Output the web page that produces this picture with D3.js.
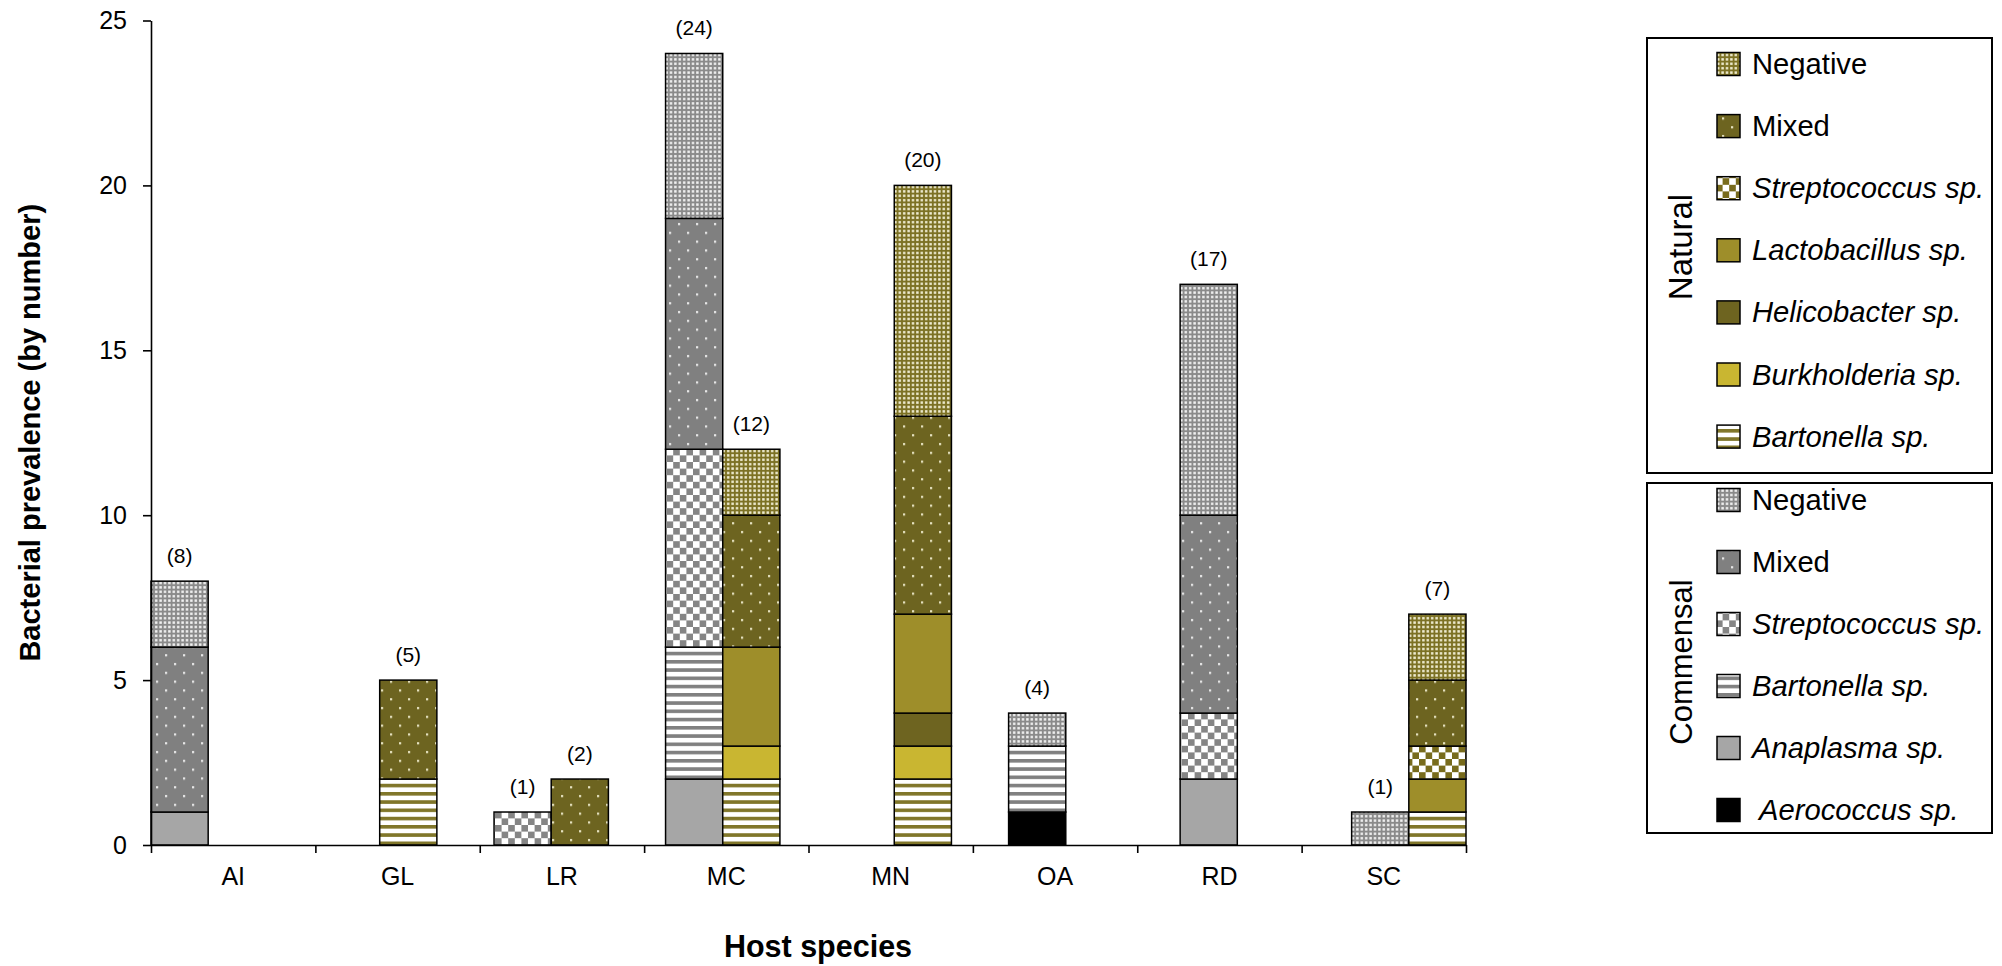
<!DOCTYPE html>
<html><head><meta charset="utf-8">
<script src="https://cdn.jsdelivr.net/npm/d3@7"></script>
<style>
html,body{margin:0;padding:0;background:#fff;}
svg{display:block;font-family:"Liberation Sans",Arial,sans-serif;}
</style>
</head><body>
<svg id="chart" width="2002" height="966"></svg>
<script>
// ---------------- DATA ----------------
const hosts = ["AI","GL","LR","MC","MN","OA","RD","SC"];
const groups = ["Commensal","Natural"];

// Commensal series (stack order bottom -> top)
const commensalKeys = ["Aerococcus sp.","Anaplasma sp.","Bartonella sp.","Streptococcus sp.","Mixed","Negative"];
const comAerococcus    = [0,0,0,0,0,1,0,0];
const comAnaplasma     = [1,0,0,2,0,0,2,0];
const comBartonella    = [0,0,0,4,0,2,0,0];
const comStreptococcus = [0,0,1,6,0,0,2,0];
const comMixed         = [5,0,0,7,0,0,6,0];
const comNegative      = [2,0,0,5,0,1,7,1];

// Natural series (stack order bottom -> top)
const naturalKeys = ["Bartonella sp.","Burkholderia sp.","Helicobacter sp.","Lactobacillus sp.","Streptococcus sp.","Mixed","Negative"];
const natBartonella    = [0,2,0,2,2,0,0,1];
const natBurkholderia  = [0,0,0,1,1,0,0,0];
const natHelicobacter  = [0,0,0,0,1,0,0,0];
const natLactobacillus = [0,0,0,3,3,0,0,1];
const natStreptococcus = [0,0,0,0,0,0,0,1];
const natMixed         = [0,3,2,4,6,0,0,2];
const natNegative      = [0,0,0,2,7,0,0,2];

const yTicks = [0,5,10,15,20,25];
const yTitle = "Bacterial prevalence (by number)";
const xTitle = "Host species";

// legend order (top -> bottom)
const naturalLegend = ["Negative","Mixed","Streptococcus sp.","Lactobacillus sp.","Helicobacter sp.","Burkholderia sp.","Bartonella sp."];
const commensalLegend = ["Negative","Mixed","Streptococcus sp.","Bartonella sp.","Anaplasma sp.","Aerococcus sp."];

// ---------------- TABLES ----------------
const comSeries = [comAerococcus,comAnaplasma,comBartonella,comStreptococcus,comMixed,comNegative];
const natSeries = [natBartonella,natBurkholderia,natHelicobacter,natLactobacillus,natStreptococcus,natMixed,natNegative];
function buildRows(keys, series){
  return hosts.map((h,i)=>{ const r={host:h}; keys.forEach((k,j)=>r[k]=series[j][i]); return r; });
}
const comRows = buildRows(commensalKeys, comSeries);
const natRows = buildRows(naturalKeys, natSeries);

// ---------------- SVG ----------------
const svg = d3.select("#chart");
const defs = svg.append("defs");

function patDots(id,bg,dot,p,s){
  const pt = defs.append("pattern").attr("id",id).attr("patternUnits","userSpaceOnUse").attr("width",p).attr("height",p);
  pt.append("rect").attr("width",p).attr("height",p).attr("fill",bg);
  pt.append("rect").attr("x",(p-s)/2).attr("y",(p-s)/2).attr("width",s).attr("height",s).attr("fill",dot);
}
function patSparse(id,bg,dot){
  const w=18,h=17.6;
  const pt = defs.append("pattern").attr("id",id).attr("patternUnits","userSpaceOnUse").attr("width",w).attr("height",h);
  pt.append("rect").attr("width",w).attr("height",h).attr("fill",bg);
  pt.append("rect").attr("x",3).attr("y",3).attr("width",2.2).attr("height",2.2).attr("fill",dot);
  pt.append("rect").attr("x",12).attr("y",11.8).attr("width",2.2).attr("height",2.2).attr("fill",dot);
}
function patChecker(id,c){
  const s=6.6;
  const pt = defs.append("pattern").attr("id",id).attr("patternUnits","userSpaceOnUse").attr("width",2*s).attr("height",2*s);
  pt.append("rect").attr("width",2*s).attr("height",2*s).attr("fill","#fff");
  pt.append("rect").attr("width",s).attr("height",s).attr("fill",c);
  pt.append("rect").attr("x",s).attr("y",s).attr("width",s).attr("height",s).attr("fill",c);
}
function patStripes(id,c){
  const p=8.25;
  const pt = defs.append("pattern").attr("id",id).attr("patternUnits","userSpaceOnUse").attr("width",10).attr("height",p);
  pt.append("rect").attr("width",10).attr("height",p).attr("fill","#fff");
  pt.append("rect").attr("y",0).attr("width",10).attr("height",3.6).attr("fill",c);
}
patDots("cNeg","#8a8a8a","#f4f4f4",4.4,2.4);
patSparse("cMix","#808080","#e8e8e8");
patChecker("cStr","#858585");
patStripes("cBar","#808080");
patDots("nNeg","#7c7124","#f2efd6",4.4,2.4);
patSparse("nMix","#6d6420","#e6e2c0");
patChecker("nStr","#786b1c");
patStripes("nBar","#80762a");

const fills = {
  Commensal: {
    "Aerococcus sp.":"#000000",
    "Anaplasma sp.":"#a6a6a6",
    "Bartonella sp.":"url(#cBar)",
    "Streptococcus sp.":"url(#cStr)",
    "Mixed":"url(#cMix)",
    "Negative":"url(#cNeg)"
  },
  Natural: {
    "Bartonella sp.":"url(#nBar)",
    "Burkholderia sp.":"#c9b631",
    "Helicobacter sp.":"#6e6420",
    "Lactobacillus sp.":"#9e8e2a",
    "Streptococcus sp.":"url(#nStr)",
    "Mixed":"url(#nMix)",
    "Negative":"url(#nNeg)"
  }
};

// ---------------- SCALES ----------------
const plotL = 151, plotR = 1466, plotT = 20.5, plotB = 845;
const y = d3.scaleLinear().domain([0,25]).range([plotB,plotT]);
const xHost = d3.scaleBand().domain(hosts).range([plotL,plotR]);
const xSlot = d3.scaleBand().domain(d3.range(hosts.length*groups.length + hosts.length - 1)).range([plotL,plotR]).padding(0);
const slotOf = (host,group) => hosts.indexOf(host)*(groups.length+1) + groups.indexOf(group);
const xTickScale = d3.scaleLinear().domain([0,hosts.length]).range([plotL,plotR]);

// ---------------- BARS ----------------
function drawGroup(group, keys, rows){
  const stacked = d3.stack().keys(keys)(rows);
  const g = svg.append("g").attr("class","bars-"+group);
  stacked.forEach(layer=>{
    g.selectAll(null).data(layer.filter(d=>d[1]-d[0]>0)).join("rect")
      .attr("x",d=>xSlot(slotOf(d.data.host,group)))
      .attr("width",xSlot.bandwidth())
      .attr("y",d=>y(d[1]))
      .attr("height",d=>y(d[0])-y(d[1]))
      .attr("fill",fills[group][layer.key])
      .attr("stroke","#000").attr("stroke-width",1.5);
  });
  const totals = rows.map(r=>({host:r.host,total:d3.sum(keys,k=>r[k])})).filter(d=>d.total>0);
  g.selectAll("text.tot").data(totals).join("text").attr("class","tot")
    .attr("x",d=>xSlot(slotOf(d.host,group))+xSlot.bandwidth()/2)
    .attr("y",d=>y(d.total)-18)
    .attr("text-anchor","middle").attr("font-size",21).attr("fill","#000")
    .text(d=>"("+d.total+")");
}
drawGroup("Commensal", commensalKeys, comRows);
drawGroup("Natural", naturalKeys, natRows);

// ---------------- AXES ----------------
const yAxis = svg.append("g").attr("transform",`translate(${plotL},0)`)
  .call(d3.axisLeft(y).tickValues(yTicks).tickSize(8).tickSizeOuter(0).tickPadding(16));
yAxis.selectAll("path,line").attr("stroke","#000").attr("stroke-width",1.6);
yAxis.selectAll("text").attr("font-size",25).attr("fill","#000").attr("font-family","Liberation Sans, Arial, sans-serif");

const xAxis = svg.append("g").attr("transform",`translate(0,${y(0)})`)
  .call(d3.axisBottom(xTickScale).ticks(hosts.length).tickFormat("").tickSize(8).tickSizeOuter(0));
xAxis.selectAll("path,line").attr("stroke","#000").attr("stroke-width",1.6);
svg.append("g").selectAll("text").data(hosts).join("text")
  .attr("x",d=>xHost(d)+xHost.bandwidth()/2).attr("y",885)
  .attr("text-anchor","middle").attr("font-size",25).attr("fill","#000").text(d=>d);

svg.append("text").attr("transform",`translate(40,${(plotT+plotB)/2}) rotate(-90)`)
  .attr("text-anchor","middle").attr("font-size",29).attr("font-weight","bold").text(yTitle);
svg.append("text").attr("x",818).attr("y",957)
  .attr("text-anchor","middle").attr("font-size",30.5).attr("font-weight","bold").text(xTitle);

// ---------------- LEGEND ----------------
function drawLegend(group, items, box, firstRow, step, titleY, titleSize){
  const g = svg.append("g");
  g.append("rect").attr("x",box[0]).attr("y",box[1]).attr("width",box[2]-box[0]).attr("height",box[3]-box[1])
    .attr("fill","none").attr("stroke","#000").attr("stroke-width",2);
  g.append("text").attr("transform",`translate(1692,${titleY}) rotate(-90)`)
    .attr("text-anchor","middle").attr("font-size",titleSize).attr("fill","#000").text(group);
  items.forEach((k,i)=>{
    const cy = firstRow + i*step;
    g.append("rect").attr("x",1717).attr("y",cy-11.5).attr("width",23).attr("height",23)
      .attr("fill",fills[group][k]).attr("stroke","#000").attr("stroke-width",1.5);
    g.append("text").attr("x",k==="Aerococcus sp."?1759:1752).attr("y",cy+10)
      .attr("font-size",29.2).attr("fill","#000")
      .attr("font-style",/sp\.$/.test(k)?"italic":"normal").text(k);
  });
}
drawLegend("Natural", naturalLegend, [1647,38,1992,473], 64, 62.1, 247, 33);
drawLegend("Commensal", commensalLegend, [1647,483,1992,833], 500, 62, 662, 31);
</script>
</body></html>
